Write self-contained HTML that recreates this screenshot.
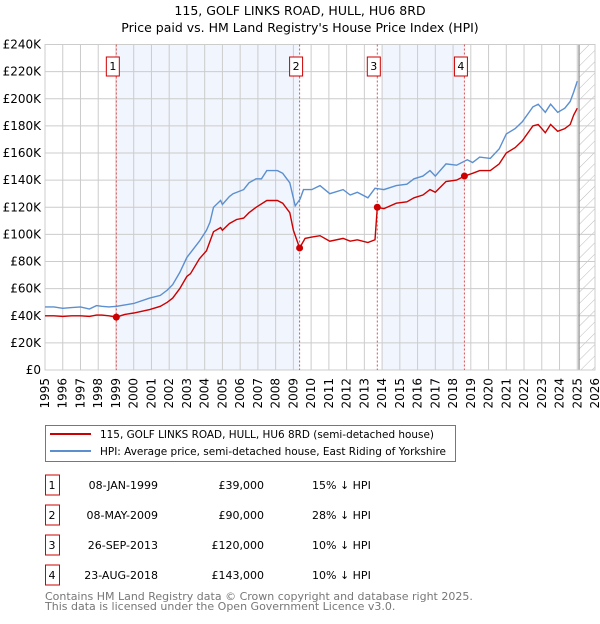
<!DOCTYPE html>
<html><head><meta charset="utf-8">
<style>
body{margin:0;background:#fff;font-family:"DejaVu Sans","Liberation Sans",sans-serif;}
svg text{font-family:"DejaVu Sans","Liberation Sans",sans-serif;}
</style></head>
<body>
<svg id="chart" width="600" height="620" viewBox="0 0 600 620" xmlns="http://www.w3.org/2000/svg">
<defs>
<pattern id="hatch" patternUnits="userSpaceOnUse" width="8" height="8" patternTransform="rotate(45)">
<line x1="0" y1="0" x2="0" y2="8" stroke="#bbb" stroke-width="1"/>
</pattern>
</defs>
<text x="300" y="15" text-anchor="middle" font-size="12.5">115, GOLF LINKS ROAD, HULL, HU6 8RD</text>
<text x="300" y="32" text-anchor="middle" font-size="12.5">Price paid vs. HM Land Registry's House Price Index (HPI)</text>
<g id="plot"></g>
<g>
<rect x="45.5" y="425.5" width="410" height="36" fill="#fff" stroke="#777"/>
<line x1="50" y1="434" x2="91" y2="434" stroke="#cc0000" stroke-width="2"/>
<text x="100" y="438" font-size="10.5" textLength="334" lengthAdjust="spacingAndGlyphs">115, GOLF LINKS ROAD, HULL, HU6 8RD (semi-detached house)</text>
<line x1="50" y1="451" x2="91" y2="451" stroke="#5b8fd0" stroke-width="2"/>
<text x="100" y="455" font-size="10.5" textLength="346" lengthAdjust="spacingAndGlyphs">HPI: Average price, semi-detached house, East Riding of Yorkshire</text>
</g>
<g id="table" font-size="11"></g>
<text x="45" y="600" font-size="11" fill="#777">Contains HM Land Registry data © Crown copyright and database right 2025.</text>
<text x="45" y="610" font-size="11" fill="#777">This data is licensed under the Open Government Licence v3.0.</text>
</svg>
<script>
const hpiYears=[1995,1995.5,1996,1996.5,1997,1997.5,1997.9,1998.2,1998.6,1999.04,1999.5,2000,2000.9,2001.5,2001.9,2002.2,2002.6,2003.0,2003.7,2004.1,2004.3,2004.5,2004.9,2005.0,2005.4,2005.6,2006.2,2006.5,2006.9,2007.2,2007.5,2008.1,2008.4,2008.8,2009.1,2009.38,2009.57,2010.04,2010.5,2011.05,2011.8,2012.2,2012.6,2013.2,2013.6,2014.1,2014.8,2015.4,2015.8,2016.3,2016.7,2017.0,2017.6,2018.2,2018.8,2019.1,2019.5,2020.1,2020.6,2021.0,2021.5,2021.9,2022.5,2022.8,2023.2,2023.5,2023.9,2024.3,2024.6,2024.8,2025.0];
const hpiValues=[46.5,46.5,45.5,46,46.5,45,47.5,47,46.5,47,48,49,53,55,59,63,72,83,95,103,109,120,125,122,128,130,133,138,141,141,147,147,145,138,121,126,133,133,136,130,133,129,131,127,134,133,136,137,141,143,147,143,152,151,155,153,157,156,163,174,178,183,194,196,190,196,190,193,198,205,213];
const priceYears=[1995,1995.5,1996,1996.5,1997,1997.5,1997.9,1998.2,1998.6,1999.02,1999.5,2000,2000.9,2001.5,2001.9,2002.2,2002.6,2003.0,2003.2,2003.7,2004.1,2004.5,2004.9,2005.0,2005.4,2005.8,2006.2,2006.5,2006.9,2007.5,2008.1,2008.4,2008.8,2009.0,2009.35,2009.66,2010.04,2010.5,2011.05,2011.8,2012.2,2012.6,2013.2,2013.6,2013.73,2014.1,2014.8,2015.4,2015.8,2016.3,2016.7,2017.0,2017.6,2018.2,2018.64,2019.1,2019.5,2020.1,2020.6,2021.0,2021.5,2021.9,2022.5,2022.8,2023.2,2023.5,2023.9,2024.3,2024.6,2024.8,2025.0];
const priceValues=[40,40,39.5,40,40,39.5,40.5,40.5,40,39,41,42,44.5,47,50,53,60,69,71,82,88,102,105,103,108,111,112,116,120,125,125,123,116,103,90,97,98,99,95,97,95,96,94,96,120,119,123,124,127,129,133,131,139,140,143,145,147,147,152,160,164,169,180,181,175,181,176,178,181,188,193];
const saleYears=[1999.02,2009.35,2013.73,2018.64];
const saleValues=[39,90,120,143];
const saleLabels=["1","2","3","4"];
const saleDates=["08-JAN-1999","08-MAY-2009","26-SEP-2013","23-AUG-2018"];
const salePrices=["£39,000","£90,000","£120,000","£143,000"];
const saleHpi=["15% ↓ HPI","28% ↓ HPI","10% ↓ HPI","10% ↓ HPI"];
const yTicks=[0,20,40,60,80,100,120,140,160,180,200,220,240];
const xTicks=[];for(let y=1995;y<=2026;y++)xTicks.push(y);

const X0=45,X1=595,Y0=370,Y1=44.5;
const x=v=>X0+(v-1995)/(2026-1995)*(X1-X0);
const y=v=>Y0-v/240*(Y0-Y1);
const NS="http://www.w3.org/2000/svg";
const plot=document.getElementById('plot');
function mk(tag,attrs,parent){const e=document.createElementNS(NS,tag);for(const k in attrs)e.setAttribute(k,attrs[k]);(parent||plot).appendChild(e);return e;}

let r=mk('rect',{x:x(saleYears[0]),y:Y1,width:x(saleYears[1])-x(saleYears[0]),height:Y0-Y1,fill:'#eef3fc',opacity:0.8});


r=mk('rect',{x:x(2014),y:Y1,width:x(saleYears[3])-x(2014),height:Y0-Y1,fill:'#eef3fc',opacity:0.8});


r=mk('rect',{x:x(2025.1),y:Y1,width:X1-x(2025.1),height:Y0-Y1,fill:'url(#hatch)'});



yTicks.forEach(t=>{
  const l=mk('line',{x1:X0,x2:X1,y1:y(t),y2:y(t),stroke:'#ccc','stroke-width':1});
  
  
  const tx=mk('text',{x:X0-4,y:y(t)+4,'text-anchor':'end','font-size':12});
  tx.textContent=t===0?'£0':'£'+t+'K';
  
  
});
xTicks.forEach(t=>{
  const l=mk('line',{x1:x(t),x2:x(t),y1:Y1,y2:Y0,stroke:'#ccc','stroke-width':1});
  
  
  const tx=mk('text',{x:0,y:0,'text-anchor':'end','font-size':12,transform:`translate(${x(t)+4},${Y0+8}) rotate(-90)`});
  tx.textContent=t;
  
  
});
let vl=mk('line',{x1:x(2025.1),x2:x(2025.1),y1:Y1,y2:Y0,stroke:'#888','stroke-width':1.2});


let border=mk('rect',{x:X0,y:Y1,width:X1-X0,height:Y0-Y1,fill:'none',stroke:'#ccc'});



saleYears.forEach((s,i)=>{
  const l=mk('line',{x1:x(s),x2:x(s),y1:Y1,y2:Y0,stroke:'#e05050','stroke-width':1,'stroke-dasharray':'2,2'});
  
  
  const b=mk('rect',{x:x(s)-10,y:57,width:13,height:19,fill:'#fff',stroke:'#cc0000'});
  
  
  const t=mk('text',{x:x(s)-3.5,y:70,'text-anchor':'middle','font-size':11});
  t.textContent=saleLabels[i];
  
  
});

const path=(xs,vs)=>xs.map((v,i)=>(i?'L':'M')+x(v).toFixed(1)+','+y(vs[i]).toFixed(1)).join('');
let hp=mk('path',{d:path(hpiYears,hpiValues),fill:'none',stroke:'#5b8fd0','stroke-width':1.4});


let pp=mk('path',{d:path(priceYears,priceValues),fill:'none',stroke:'#cc0000','stroke-width':1.4});


saleYears.forEach((s,i)=>{
  const c=mk('circle',{cx:x(s),cy:y(saleValues[i]),r:3.5,fill:'#cc0000'});
  
  
});

const tbl=document.getElementById('table');
saleYears.forEach((s,i)=>{
  const cy=485+i*30;
  const b=mk('rect',{x:45.5,y:cy-10,width:14,height:20,fill:'#fff',stroke:'#cc0000'},tbl);
  
  
  const cells=[[52,'middle',saleLabels[i]],[158,'end',saleDates[i]],[264,'end',salePrices[i]],[312,'start',saleHpi[i]]];
  const names=['table-label','table-date','table-price','table-hpi-diff'];
  cells.forEach((c,j)=>{
    const t=mk('text',{x:c[0],y:cy+4,'text-anchor':c[1]},tbl);
    t.textContent=c[2];
    
    
  });
});
</script>
</body></html>
